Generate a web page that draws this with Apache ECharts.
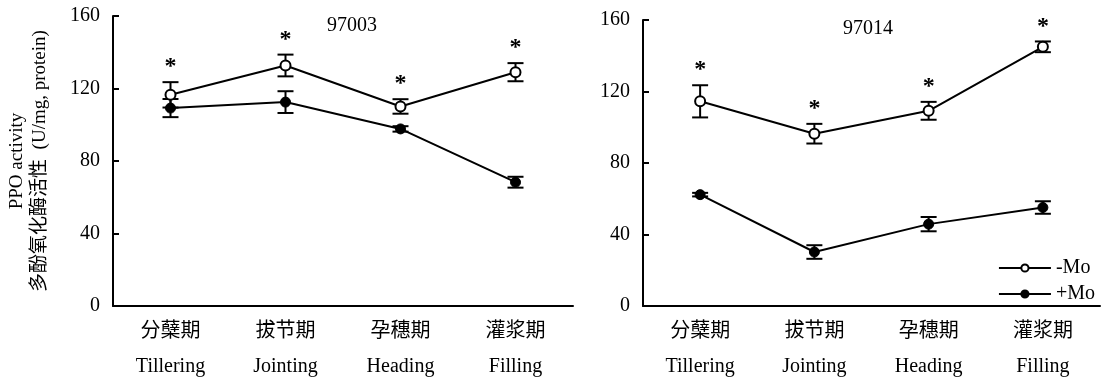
<!DOCTYPE html>
<html>
<head>
<meta charset="utf-8">
<script src="https://cdn.jsdelivr.net/npm/echarts@6/dist/echarts.min.js"></script>
<style>
  html, body { margin: 0; padding: 0; background: #fff; }
  #chart { width: 1112px; height: 384px; }
</style>
</head>
<body>
<div id="chart"></div>
<script>
// 生育期
const categories = ['分蘖期\nTillering', '拔节期\nJointing', '孕穗期\nHeading', '灌浆期\nFilling'];
const yTicks = [0, 40, 80, 120, 160];

// 97003
const leftMinus = [116.5, 132.7, 110.1, 129.0];
const leftMinusErr = [7, 6, 4, 5];
const leftPlus = [109.2, 112.5, 97.7, 68.3];
const leftPlusErr = [5, 6, 1.5, 3];
const leftStars = ['*', '*', '*', '*'];

// 97014
const rightMinus = [114.5, 96.4, 109.2, 145.0];
const rightMinusErr = [9, 5.5, 5, 3];
const rightPlus = [62.3, 30.2, 45.8, 55.1];
const rightPlusErr = [1, 3.8, 4, 3.5];
const rightStars = ['*', '*', '*', '*'];

const serif = "'Liberation Serif', 'Noto Sans CJK SC', serif";

// 误差线 + 显著性星号
function errSeries(axisIdx, mean, err, stars) {
  return {
    type: 'custom',
    xAxisIndex: axisIdx,
    yAxisIndex: axisIdx,
    z: 1,
    silent: true,
    data: mean.map((m, i) => [i, m - err[i], m + err[i]]),
    renderItem: function (params, api) {
      const x = api.value(0);
      const top = api.coord([x, api.value(2)]);
      const bot = api.coord([x, api.value(1)]);
      const half = 8;
      const st = { stroke: '#000', lineWidth: 2 };
      const children = [
        { type: 'line', shape: { x1: top[0], y1: top[1], x2: bot[0], y2: bot[1] }, style: st },
        { type: 'line', shape: { x1: top[0] - half, y1: top[1], x2: top[0] + half, y2: top[1] }, style: st },
        { type: 'line', shape: { x1: bot[0] - half, y1: bot[1], x2: bot[0] + half, y2: bot[1] }, style: st },
      ];
      if (stars && stars[params.dataIndex]) {
        children.push({
          type: 'text',
          style: {
            text: stars[params.dataIndex],
            x: top[0],
            y: top[1] - 3,
            align: 'center',
            verticalAlign: 'bottom',
            fontSize: 24,
            fontWeight: 'bold',
            fontFamily: serif,
            fill: '#000',
          },
        });
      }
      return { type: 'group', children: children };
    },
  };
}

function lineSeries(axisIdx, name, data, open) {
  return {
    type: 'line',
    name: name,
    xAxisIndex: axisIdx,
    yAxisIndex: axisIdx,
    z: 3,
    data: data,
    symbol: 'circle',
    symbolSize: 10,
    lineStyle: { color: '#000', width: 2 },
    itemStyle: open
      ? { color: '#fff', borderColor: '#000', borderWidth: 2 }
      : { color: '#000', borderColor: '#000', borderWidth: 1 },
    emphasis: { disabled: true },
  };
}

function xAxis(gridIndex) {
  return {
    type: 'category',
    gridIndex: gridIndex,
    data: categories,
    boundaryGap: true,
    axisLine: { lineStyle: { color: '#000', width: 2 } },
    axisTick: { inside: true, length: 5, lineStyle: { color: '#000', width: 2 } },
    axisLabel: {
      color: '#000',
      fontSize: 20,
      fontFamily: serif,
      lineHeight: 35,
      margin: 8,
      interval: 0,
    },
  };
}

function yAxis(gridIndex, withName) {
  const ax = {
    type: 'value',
    gridIndex: gridIndex,
    min: yTicks[0],
    max: yTicks[yTicks.length - 1],
    interval: 40,
    splitLine: { show: false },
    axisLine: { show: true, lineStyle: { color: '#000', width: 2 } },
    axisTick: { show: true, inside: true, length: 6, lineStyle: { color: '#000', width: 2 } },
    axisLabel: { color: '#000', fontSize: 20, fontFamily: serif, margin: 13 },
  };
  if (withName) {
    ax.name = 'PPO activity\n多酚氧化酶活性  (U/mg, protein)';
    ax.nameLocation = 'middle';
    ax.nameRotate = 90;
    ax.nameGap = 61;
    ax.nameTextStyle = { color: '#000', fontSize: 19, fontFamily: serif, lineHeight: 23 };
  }
  return ax;
}

const chart = echarts.init(document.getElementById('chart'));
const option = {
  animation: false,
  backgroundColor: '#fff',
  title: [
    { text: '97003', left: 347, top: 11, textAlign: 'center',
      textStyle: { color: '#000', fontSize: 20, fontWeight: 'normal', fontFamily: serif } },
    { text: '97014', left: 863, top: 14, textAlign: 'center',
      textStyle: { color: '#000', fontSize: 20, fontWeight: 'normal', fontFamily: serif } },
  ],
  legend: {
    data: ['-Mo', '+Mo'],
    orient: 'vertical',
    right: 12,
    top: 253,
    itemWidth: 52,
    itemHeight: 9,
    itemGap: 6,
    textStyle: { color: '#000', fontSize: 20, fontFamily: serif },
  },
  grid: [
    { left: 113, top: 16, width: 460, height: 291 },
    { left: 643, top: 20, width: 457, height: 291 },
  ],
  xAxis: [xAxis(0), xAxis(1)],
  yAxis: [yAxis(0, true), yAxis(1, false)],
  series: [
    errSeries(0, leftMinus, leftMinusErr, leftStars),
    errSeries(0, leftPlus, leftPlusErr, null),
    lineSeries(0, '-Mo', leftMinus, true),
    lineSeries(0, '+Mo', leftPlus, false),
    errSeries(1, rightMinus, rightMinusErr, rightStars),
    errSeries(1, rightPlus, rightPlusErr, null),
    lineSeries(1, '-Mo', rightMinus, true),
    lineSeries(1, '+Mo', rightPlus, false),
  ],
};
chart.setOption(option);
</script>
</body>
</html>
